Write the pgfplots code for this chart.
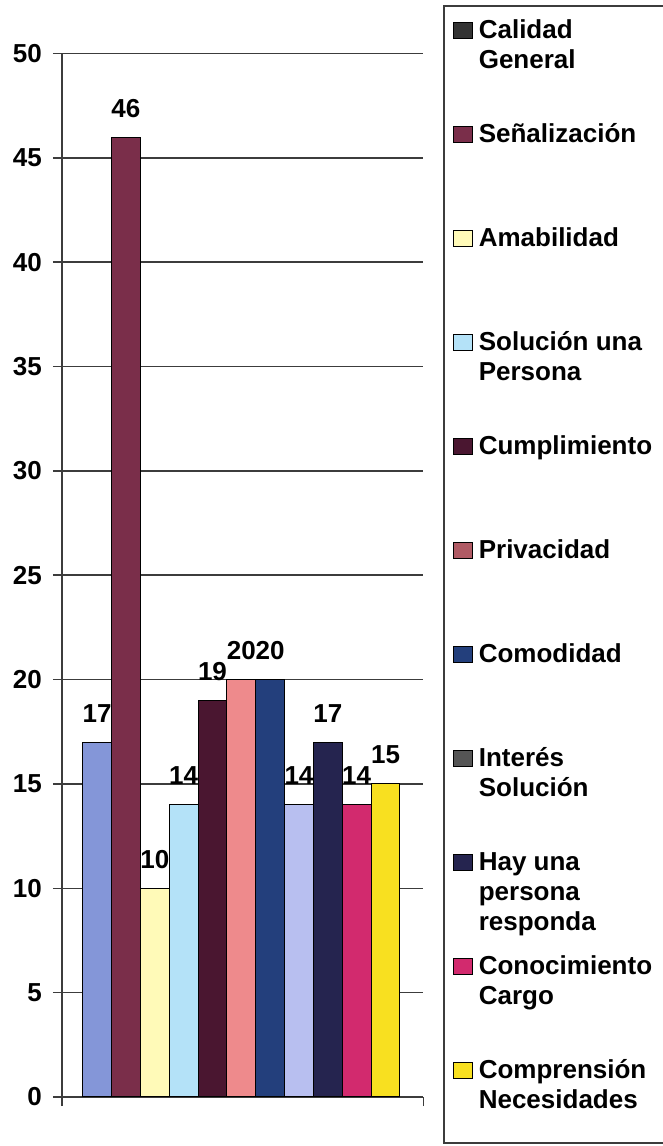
\documentclass[border=0pt]{standalone}
\usepackage{pgfplots}
\pgfplotsset{compat=1.18}
\usepackage{fontspec}
\setmainfont{Liberation Sans}

% bar colours
\definecolor{c1}{HTML}{8496D8}
\definecolor{c2}{HTML}{7A2E4A}
\definecolor{c3}{HTML}{FFFAB8}
\definecolor{c4}{HTML}{B4E2F8}
\definecolor{c5}{HTML}{4A1630}
\definecolor{c6}{HTML}{EE8A8C}
\definecolor{c7}{HTML}{233F7C}
\definecolor{c8}{HTML}{B8BFF0}
\definecolor{c9}{HTML}{25244F}
\definecolor{c10}{HTML}{D22A6E}
\definecolor{c11}{HTML}{F8E020}
% legend swatches that differ from the bars
\definecolor{l1}{HTML}{333333}
\definecolor{l6}{HTML}{B05A64}
\definecolor{l8}{HTML}{555555}
\definecolor{gridc}{HTML}{3C3C3C}

\newcommand{\lgd}[2][104pt]{\parbox[t][#1][t]{176pt}{\strut #2}}

\begin{document}
\fontsize{26}{30}\selectfont\bfseries
\begin{tikzpicture}
\path[use as bounding box] (-62pt,-49pt) rectangle (601pt,1097pt);
\begin{axis}[
    at={(0pt,0pt)}, anchor=south west,
    scale only axis, width=361.3pt, height=1043.4pt,
    xmin=-0.217, xmax=12.31, ymin=0, ymax=50,
    ytick={0,5,...,50},
    xtick={-0.217,12.31}, xticklabels={},
    axis x line*=bottom, axis y line*=left,
    axis line style={draw=gridc, line width=1.6pt},
    ymajorgrids, grid style={draw=gridc, line width=1.6pt},
    tick align=outside, major tick length=9pt,
    tick style={draw=gridc, line width=1.6pt},
    /pgf/number format/assume math mode=true,
    yticklabel style={anchor=east, inner sep=0pt, xshift=-11pt},
    ybar, bar width=1, bar shift=0pt,
    nodes near coords,
    every node near coord/.append style={anchor=base, inner sep=0pt, yshift=20pt},
    every axis plot/.append style={draw=black, line width=1pt},
    legend image code/.code={\draw[#1] (-1pt,0pt) rectangle (18pt,16pt);},
    legend style={at={(axis description cs:1.0545,1.0463)}, anchor=north west,
        draw=gridc, line width=1.6pt, fill=white,
        inner xsep=9pt, inner ysep=11pt, row sep={104pt,between origins}, column sep=6pt,
        nodes={inner sep=0pt, text depth=}, cells={anchor=base west}},
]
\addplot[fill=c1, legend image post style={fill=l1}] coordinates {(1,17)};
\addlegendentry{\lgd{Calidad\newline General}}
\addplot[fill=c2] coordinates {(2,46)};
\addlegendentry{\lgd{Señalización}}
\addplot[fill=c3] coordinates {(3,10)};
\addlegendentry{\lgd{Amabilidad}}
\addplot[fill=c4] coordinates {(4,14)};
\addlegendentry{\lgd{Solución una\newline Persona}}
\addplot[fill=c5] coordinates {(5,19)};
\addlegendentry{\lgd{Cumplimiento}}
\addplot[fill=c6, legend image post style={fill=l6}] coordinates {(6,20)};
\addlegendentry{\lgd{Privacidad}}
\addplot[fill=c7] coordinates {(7,20)};
\addlegendentry{\lgd{Comodidad}}
\addplot[fill=c8, legend image post style={fill=l8}] coordinates {(8,14)};
\addlegendentry{\lgd{Interés\newline Solución}}
\addplot[fill=c9] coordinates {(9,17)};
\addlegendentry{\lgd{Hay una\newline persona\newline responda}}
\addplot[fill=c10] coordinates {(10,14)};
\addlegendentry{\lgd{Conocimiento\newline Cargo}}
\addplot[fill=c11] coordinates {(11,15)};
\addlegendentry{\lgd[75pt]{Comprensión\newline Necesidades}}
\end{axis}
\end{tikzpicture}
\end{document}
